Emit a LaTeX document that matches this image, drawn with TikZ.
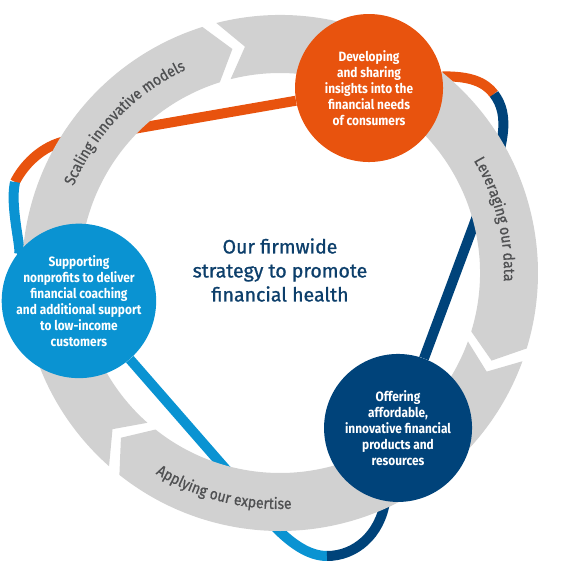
\documentclass[tikz,border=0pt]{standalone}
\usepackage{fontspec}
\setmainfont{Fira Sans}
\newfontfamily\hubfont[FakeStretch=0.88]{Fira Sans}
\newfontfamily\labelfont[FakeStretch=0.9, FakeBold=0.8]{Fira Sans}
\newfontfamily\titlefont[FakeBold=1]{Fira Sans}
\usetikzlibrary{decorations.text}
\definecolor{devorange}{HTML}{E8530E}
\definecolor{invnavy}{HTML}{00437A}
\definecolor{supblue}{HTML}{0A93D2}
\definecolor{ringgrey}{HTML}{D1D1D1}
\definecolor{labelgrey}{HTML}{4F5052}
\definecolor{titlenavy}{HTML}{0D3F6B}
\pgfdeclarelayer{lines}
\pgfdeclarelayer{ring}
\pgfsetlayers{lines,ring,main}

\begin{document}
\begin{tikzpicture}[x=1pt, y=1pt,
        hub/.style={circle, minimum size=148pt, inner sep=0pt, text=white, align=center,
            font=\hubfont\bfseries\fontsize{13.5}{16}\selectfont},
        link/.style={line width=10pt}]
    \useasboundingbox (-280,-289) rectangle (281,273);

    \node[hub, fill=devorange] (dev) at (64.3:205.3) {Developing\\and sharing\\insights into the\\financial needs\\of consumers};
    \node[hub, fill=invnavy] (inv) at (-52.7:194.8) {Offering\\affordable,\\innovative financial\\products and\\resources};
    \node[hub, fill=supblue] (sup) at (187.9:203) {Supporting\\nonprofits to deliver\\financial coaching\\and additional support\\to low-income\\customers};
    \node[font=\titlefont\fontsize{19.5}{24}\selectfont, text=titlenavy, align=center] (goal) at (0,3) {Our firmwide\\strategy to promote\\financial health};

    \coordinate (l1) at (-210,133);
    \coordinate (lmid) at (-265,91);
    \coordinate (rmid) at (214,179);
    \coordinate (r2) at (203,73);
    \coordinate (b1) at (-50,-201);
    \coordinate (bmid) at (47,-283);

    \begin{pgfonlayer}{lines}
        \draw[link, devorange] (dev) -- (l1) .. controls (-240,128) and (-258,105) .. (lmid);
        \draw[link, supblue] (lmid) .. controls (-271,63) and (-255,13) .. (sup);
        \draw[link, devorange] (dev.9) .. controls (190,197) and (205,191) .. (rmid);
        \draw[link, invnavy] (rmid) .. controls (230,158) and (225,129) .. (r2) -- (inv);
        \draw[link, supblue] (sup) -- (b1) .. controls (-24,-231) and (10,-283) .. (bmid);
        \draw[link, invnavy] (bmid) .. controls (75,-283) and (100,-262) .. (inv.-100);
    \end{pgfonlayer}

    \begin{pgfonlayer}{ring}
        \foreach \a/\b in {228.5/107.5, 104.3/-17, -20/-128.5}
            \fill[ringgrey] (\a:258) arc[start angle=\a, end angle=\b, radius=258] -- ({\b-5.5}:229)
                -- (\b:200) arc[start angle=\b, end angle=\a, radius=200] -- ({\a-5.5}:229) -- cycle;
        \path[decorate, decoration={text along path, text align=center,
            text={|\labelfont\fontsize{15.5}{15.5}\selectfont\color{labelgrey}|Scaling innovative models}}]
            (172:224) arc[start angle=172, end angle=100, radius=224];
        \path[decorate, decoration={text along path, text align=center,
            text={|\labelfont\fontsize{15.5}{15.5}\selectfont\color{labelgrey}|Leveraging our data}}]
            (40:224) arc[start angle=40, end angle=-12, radius=224];
        \path[decorate, decoration={text along path, text align=center,
            text={|\labelfont\fontsize{15.5}{15.5}\selectfont\color{labelgrey}|Applying our expertise}}]
            (-136:236) arc[start angle=-136, end angle=-73, radius=236];
    \end{pgfonlayer}
\end{tikzpicture}
\end{document}
